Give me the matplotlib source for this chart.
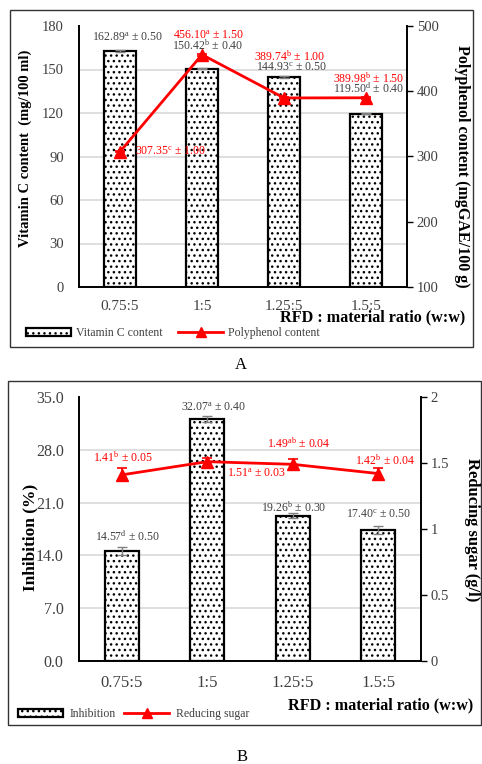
import matplotlib
matplotlib.use("Agg")
from matplotlib import pyplot as plt
from matplotlib.patches import Rectangle, Patch
from matplotlib.lines import Line2D

plt.rcParams['font.family'] = ['Liberation Serif', 'DejaVu Serif']
plt.rcParams['mathtext.fontset'] = 'custom'
plt.rcParams['mathtext.rm'] = 'Liberation Serif'
plt.rcParams['mathtext.it'] = 'Liberation Serif:italic'
plt.rcParams['mathtext.bf'] = 'Liberation Serif:bold'
plt.rcParams['hatch.linewidth'] = 1.0

ratios = ["0.75:5", "1:5", "1.25:5", "1.5:5"]

# panel A
vitc = [162.89, 150.42, 144.93, 119.50]
vitc_err = [0.50, 0.40, 0.50, 0.40]
vitc_letters = ["a", "b", "c", "d"]
poly = [307.35, 456.10, 389.74, 389.98]
poly_err = [1.00, 1.50, 1.00, 1.50]
poly_letters = ["c", "a", "b", "b"]

# panel B
inhib = [14.57, 32.07, 19.26, 17.40]
inhib_err = [0.50, 0.40, 0.30, 0.50]
inhib_letters = ["d", "a", "b", "c"]
sugar = [1.41, 1.51, 1.49, 1.42]
sugar_err = [0.05, 0.03, 0.04, 0.04]
sugar_letters = ["b", "a", "ab", "b"]

# label offsets from the mark (points)
offs_vitc = [(5.4, 9.2), (4.3, 16.5), (5.0, 6.4), (2.2, 17.8)]
offs_poly = [(36.4, 0), (4.3, 13.4), (4.3, 29.5), (2.2, 13.7)]
offs_inhib = [(4.3, 10.1), (4.3, 7.9), (0.7, 5.5), (0, 10.7)]
offs_sugar = [(0.7, 12.2), (35.3, -8.6), (4.3, 15.1), (5.0, 9.4)]

grey_txt = "#404040"
W, H = 482, 764


def fx(px):
    return px / W


def fy(py):
    return 1 - py / H


def label(v, letter, err):
    return f"{v:.2f}$^{{\\mathrm{{{letter}}}}}$ ± {err:.2f}"


def panel(rect, bars, berr, blet, boffs, line, lerr, llet, loffs,
          ylim, yticks, yfmt, ylim2, yticks2, yticklabels2, ysize, xsize, xpad):
    ax = fig.add_axes(rect)
    ax2 = ax.twinx()
    x = list(range(len(bars)))

    ax.bar(x, bars, width=0.4, color="white", edgecolor="black", hatch="...",
           linewidth=1.6, zorder=2)
    ax.errorbar(x, bars, yerr=berr, fmt="none", ecolor="#808080", elinewidth=1,
                capsize=3.5, capthick=1, zorder=3)
    for i in x:
        ax.annotate(label(bars[i], blet[i], berr[i]), (i, bars[i]),
                    xytext=boffs[i], textcoords="offset points", ha="center",
                    va="center", fontsize=8.5, color=grey_txt)

    ax2.errorbar(x, line, yerr=lerr, color="red", lw=2, marker="^", ms=8,
                 capsize=3.5, elinewidth=1.2, capthick=1.2, zorder=4)
    for i in x:
        ax2.annotate(label(line[i], llet[i], lerr[i]), (i, line[i]),
                     xytext=loffs[i], textcoords="offset points", ha="center",
                     va="center", fontsize=8.5, color="red")

    ax.set_xlim(-0.5, len(bars) - 0.5)
    ax.set_ylim(*ylim)
    ax.set_yticks(yticks, [f"{t:{yfmt}}" for t in yticks])
    ax2.set_ylim(*ylim2)
    ax2.set_yticks(yticks2, yticklabels2)
    ax.set_xticks(x, ratios)

    ax.grid(True, axis="y", color="#d9d9d9", lw=1.2)
    ax.set_axisbelow(True)
    ax.yaxis.get_gridlines()[-1].set_visible(False)

    for s in ["top", "right"]:
        ax.spines[s].set_visible(False)
    for s in ["top", "left", "bottom"]:
        ax2.spines[s].set_visible(False)
    for sp in [ax.spines["left"], ax.spines["bottom"], ax2.spines["right"]]:
        sp.set_linewidth(1.4)
        sp.set_color("black")

    ax.tick_params(axis="y", length=0, pad=11, labelsize=ysize, labelcolor=grey_txt)
    ax.tick_params(axis="x", length=0, pad=xpad, labelsize=xsize, labelcolor=grey_txt)
    ax2.tick_params(axis="y", length=4, width=1, direction="out", pad=3,
                    labelsize=10.5, labelcolor=grey_txt)
    return ax, ax2


fig = plt.figure(figsize=(4.82, 7.64), dpi=100)

# outer frames
fig.add_artist(Rectangle((fx(10), fy(347)), fx(463), 337 / H, transform=fig.transFigure,
                         fill=False, lw=1, ec="#333333"))
fig.add_artist(Rectangle((fx(8), fy(725)), fx(473), 344 / H, transform=fig.transFigure,
                         fill=False, lw=1, ec="#333333"))

# A
panel([fx(79), fy(287), fx(407 - 79), (287 - 26) / H],
      vitc, vitc_err, vitc_letters, offs_vitc, poly, poly_err, poly_letters, offs_poly,
      (0, 180), list(range(0, 181, 30)), "d", (100, 500), [100, 200, 300, 400, 500],
      ["100", "200", "300", "400", "500"], 10.5, 11, 9)

fig.text(fx(25), fy(148), "Vitamin C content  (mg/100 ml)", rotation=90, ha="center",
         va="center", fontsize=10.5, weight="bold")
fig.text(fx(462), fy(166), "Polyphenol content (mgGAE/100 g)", rotation=270, ha="center",
         va="center", fontsize=11.5, weight="bold")
fig.text(fx(465), fy(317), "RFD : material ratio (w:w)", ha="right", va="center",
         fontsize=11.6, weight="bold")
fig.legend(handles=[Patch(facecolor="white", edgecolor="black", hatch="...", linewidth=1.6),
                    Line2D([], [], color="red", lw=2, marker="^", ms=7)],
           labels=["Vitamin C content", "Polyphenol content"], ncol=2, frameon=False,
           loc="center left", bbox_to_anchor=(fx(26), fy(333)), borderpad=0,
           borderaxespad=0, handlelength=3.8, handletextpad=0.42, columnspacing=1.35,
           fontsize=8.5, numpoints=1, labelcolor=grey_txt)
fig.text(fx(241), fy(365), "A", ha="center", va="center", fontsize=12)

# B
panel([fx(79), fy(661), fx(421 - 79), (661 - 397) / H],
      inhib, inhib_err, inhib_letters, offs_inhib, sugar, sugar_err, sugar_letters, offs_sugar,
      (0, 35), [0, 7, 14, 21, 28, 35], ".1f", (0, 2), [0, 0.5, 1, 1.5, 2],
      ["0", "0.5", "1", "1.5", "2"], 11.5, 12, 10)

fig.text(fx(30), fy(537), "Inhibition (%)", rotation=90, ha="center", va="center",
         fontsize=12.5, weight="bold")
fig.text(fx(472), fy(530), "Reducing sugar (g/l)", rotation=270, ha="center", va="center",
         fontsize=12, weight="bold")
fig.text(fx(473), fy(705), "RFD : material ratio (w:w)", ha="right", va="center",
         fontsize=11.6, weight="bold")
fig.legend(handles=[Patch(facecolor="white", edgecolor="black", hatch="...", linewidth=1.6),
                    Line2D([], [], color="red", lw=2, marker="^", ms=7)],
           labels=["Inhibition", "Reducing sugar"], ncol=2, frameon=False,
           loc="center left", bbox_to_anchor=(fx(18), fy(714)), borderpad=0,
           borderaxespad=0, handlelength=3.8, handletextpad=0.6, columnspacing=0.7,
           fontsize=8.5, numpoints=1, labelcolor=grey_txt)
fig.text(fx(242), fy(757), "B", ha="center", va="center", fontsize=12)

fig.savefig("out.png", dpi=100)
